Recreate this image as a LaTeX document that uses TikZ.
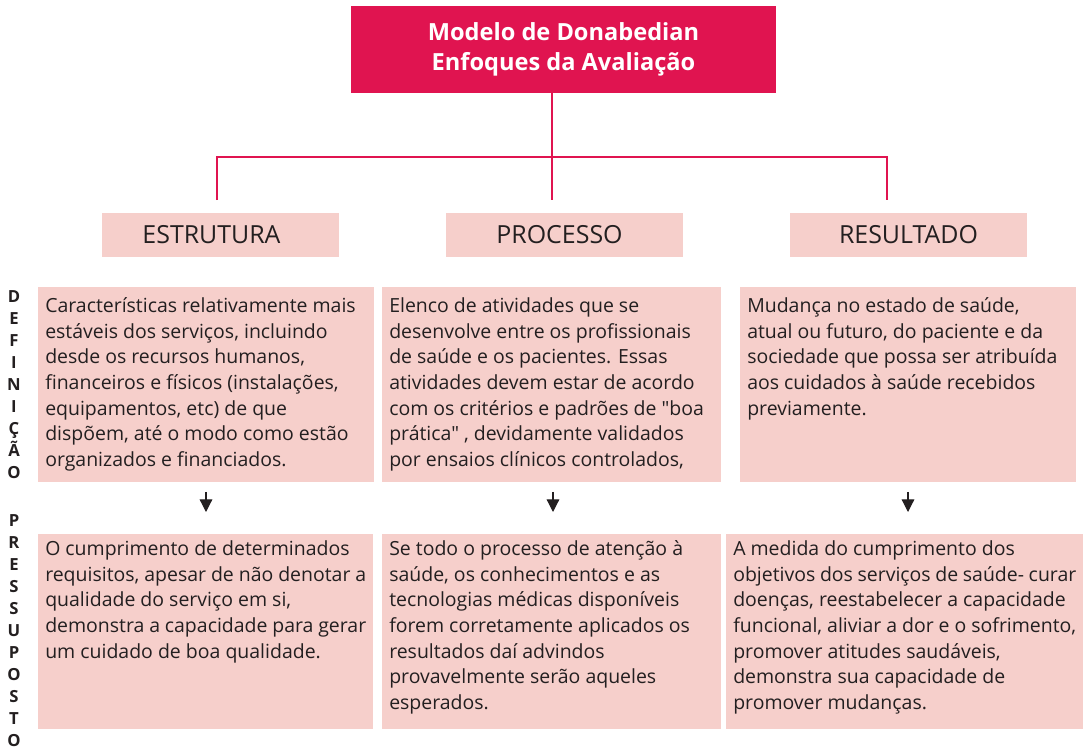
\documentclass[tikz,border=0pt]{standalone}
\usepackage{fontspec}
\setmainfont{Open Sans}[Ligatures=TeXOff]
\usetikzlibrary{arrows.meta,positioning}
\definecolor{carmim}{RGB}{224,20,80}
\definecolor{rosa}{RGB}{246,207,203}
\definecolor{tinta}{RGB}{35,31,32}
\newcommand{\bloco}[3]{\parbox[t][146.25pt][t]{#1}{\raggedright\rule{0pt}{#2}#3}}

\begin{document}
\begin{tikzpicture}[x=0.75pt,y=-0.75pt,
    font=\fontsize{14.6}{19.3}\selectfont,text=tinta,
    titulo/.style={fill=carmim,text=white,font=\fontsize{17.7}{22.5}\selectfont\bfseries,
      minimum width=318.75pt,minimum height=65.25pt,align=center},
    cabeca/.style={fill=rosa,font=\fontsize{18.7}{22}\selectfont,
      minimum width=177.75pt,minimum height=33pt,inner sep=0pt},
    caixa/.style={fill=rosa,anchor=north west,inner xsep=5.25pt,inner ysep=0pt},
    letras/.style={font=\fontsize{12.5}{16.5}\selectfont\bfseries,align=center,
      anchor=north,inner sep=0pt},
    ligacao/.style={draw=carmim,line width=1.1pt},
    seta/.style={-{Triangle[width=9.5pt,length=9.5pt]},line width=0.9pt,draw=tinta,
      shorten <=7pt,shorten >=16.5pt}]
    \useasboundingbox (0,0) rectangle (1083,750);

    \node[titulo] (modelo) at (563.5,49.5) {Modelo de Donabedian\\Enfoques da Avaliação};

    \node[cabeca] (estrutura) at (220.5,235) {ESTRUTURA\hspace*{13.5pt}};
    \node[cabeca] (processo) at (564.5,235) {PROCESSO\hspace*{7.5pt}};
    \node[cabeca] (resultado) at (908.5,235) {RESULTADO};

    % definicao
    \node[caixa] (defE) at (38,287) {\bloco{241.5pt}{18.75pt}{Características relativamente mais\\
      estáveis dos serviços, incluindo\\ desde os recursos humanos,\\
      financeiros e físicos (instalações,\\ equipamentos, etc) de que\\
      dispõem, até o modo como estão\\ organizados e financiados.}};
    \node[caixa] (defP) at (382,287) {\bloco{243.75pt}{18.75pt}{Elenco de atividades que se\\
      desenvolve entre os profissionais\\ de saúde e os pacientes. Essas\\
      atividades devem estar de acordo\\ com os critérios e padrões de "boa\\
      prática" , devidamente validados\\ por ensaios clínicos controlados,}};
    \node[caixa] (defR) at (740,287) {\bloco{241.5pt}{18.75pt}{Mudança no estado de saúde,\\
      atual ou futuro, do paciente e da\\ sociedade que possa ser atribuída\\
      aos cuidados à saúde recebidos\\ previamente.}};

    % pressuposto
    \node[caixa] (preE) at (38,534) {\bloco{240.75pt}{15.75pt}{O cumprimento de determinados\\
      requisitos, apesar de não denotar a\\ qualidade do serviço em si,\\
      demonstra a capacidade para gerar\\ um cuidado de boa qualidade.}};
    \node[caixa] (preP) at (382,534) {\bloco{243.75pt}{15.75pt}{Se todo o processo de atenção à\\
      saúde, os conhecimentos e as\\ tecnologias médicas disponíveis\\
      forem corretamente aplicados os\\ resultados daí advindos\\
      provavelmente serão aqueles\\ esperados.}};
    \node[caixa] (preR) at (726,534) {\bloco{257.25pt}{15.75pt}{A medida do cumprimento dos\\
      objetivos dos serviços de saúde- curar\\ doenças, reestabelecer a capacidade\\
      funcional, aliviar a dor e o sofrimento,\\ promover atitudes saudáveis,\\
      demonstra sua capacidade de\\ promover mudanças.}};

    \node[letras] (definicao) at (14,290) {D\\E\\F\\I\\N\\I\\Ç\\Ã\\O};
    \node[letras] (pressuposto) at (14,514) {P\\R\\E\\S\\S\\U\\P\\O\\S\\T\\O};

    \coordinate (tronco) at (552,157);
    \coordinate (ramoE) at (217,157);
    \coordinate (ramoR) at (887,157);
    \coordinate (pontaE) at (217,200);
    \coordinate (pontaP) at (552,200);
    \coordinate (pontaR) at (887,200);
    \draw[ligacao] (modelo.south -| tronco) -- (pontaP);
    \draw[ligacao] (pontaE) -- (ramoE) -- (ramoR) -- (pontaR);

    \coordinate (eixoE) at (206,0);
    \coordinate (eixoP) at (553,0);
    \coordinate (eixoR) at (908,0);
    \draw[seta] (defE.south -| eixoE) -- (preE.north -| eixoE);
    \draw[seta] (defP.south -| eixoP) -- (preP.north -| eixoP);
    \draw[seta] (defR.south -| eixoR) -- (preR.north -| eixoR);
\end{tikzpicture}
\end{document}
